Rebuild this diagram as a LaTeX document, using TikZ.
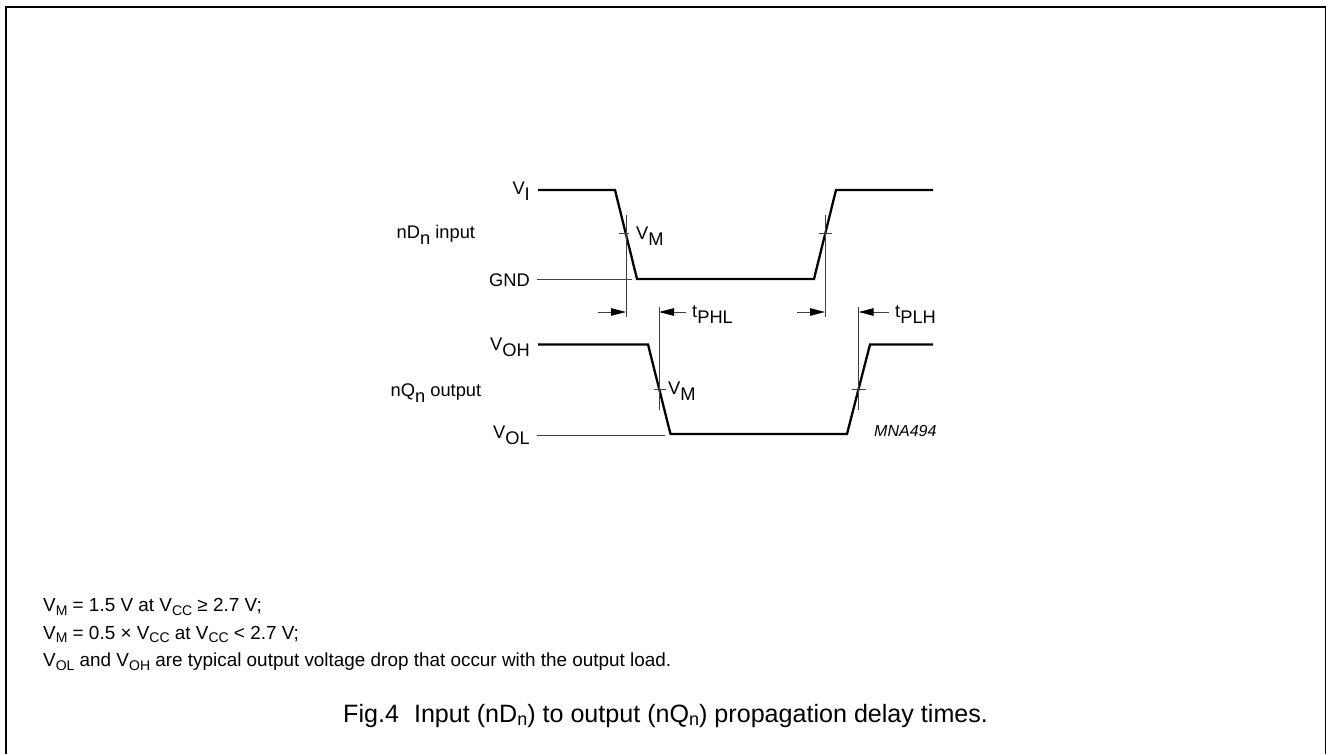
\documentclass[tikz,border=0pt]{standalone}
\usepackage{fontspec}
\setmainfont{Liberation Sans}
\usetikzlibrary{arrows.meta}
\tikzset{
  x=1pt,y=-1pt,
  wave/.style={line width=2.3pt,line join=miter},
  thin line/.style={line width=1pt,black!75},
  meas/.style={thin line,-{Triangle[length=15pt,width=7.5pt,black]}},
  lab/.style={inner sep=0pt,font=\fontsize{18.3}{20}\selectfont},
  sig/.style={inner sep=0pt,font=\fontsize{18.3}{20}\selectfont},
  note/.style={inner sep=0pt,anchor=base west,font=\fontsize{18.9}{22}\selectfont},
  figcap/.style={inner sep=0pt,anchor=base west,font=\fontsize{25.1}{28}\selectfont}
}
\newcommand{\lsub}[2]{#1\raisebox{-0.33em}{#2}}
\newcommand{\nsub}[2]{#1\raisebox{-0.2em}{\fontsize{14}{15}\selectfont #2}}
\newcommand{\csub}[2]{#1\raisebox{-0.15em}{\fontsize{18}{19}\selectfont #2}}
\begin{document}
\begin{tikzpicture}
\useasboundingbox (0,0) rectangle (1327,754);
\draw[line width=1.5pt] (6,800) -- (6,7) -- (1325.5,7) -- (1325.5,800);
% named points
\coordinate (a0) at (538,190); \coordinate (a1) at (615,190); \coordinate (a2) at (637,279);
\coordinate (a3) at (814,279); \coordinate (a4) at (836,190); \coordinate (a5) at (933,190);
\coordinate (b0) at (538,344.5); \coordinate (b1) at (648,344.5); \coordinate (b2) at (670.5,434);
\coordinate (b3) at (847,434); \coordinate (b4) at (870,344.5); \coordinate (b5) at (933,344.5);
\draw[wave] (a0) -- (a1) -- (a2) -- (a3) -- (a4) -- (a5);
\draw[wave] (b0) -- (b1) -- (b2) -- (b3) -- (b4) -- (b5);
% vertical measure lines
\coordinate (m1t) at (626,215); \coordinate (m1b) at (626,317);
\coordinate (m2t) at (825,215); \coordinate (m2b) at (825,317);
\coordinate (m3t) at (659,307); \coordinate (m3b) at (659,410);
\coordinate (m4t) at (858.7,307); \coordinate (m4b) at (858.7,410);
\draw[thin line] (m1t) -- (m1b);
\draw[thin line] (m2t) -- (m2b);
\draw[thin line] (m3t) -- (m3b);
\draw[thin line] (m4t) -- (m4b);
% ticks
\draw[thin line] (619,233) -- (629,233);
\draw[thin line] (819,233) -- (832,233);
\draw[thin line] (654,389) -- (666,389);
\draw[thin line] (852,389) -- (866,389);
% level lines
\coordinate (g0) at (537,279.5); \coordinate (g1) at (632,279.5);
\coordinate (o0) at (537,435); \coordinate (o1) at (665,435);
\draw[thin line] (g0) -- (g1);
\draw[thin line] (o0) -- (o1);
% arrows
\coordinate (r1) at (598,312); \coordinate (r1e) at (626,312);
\coordinate (r2) at (686,312); \coordinate (r2e) at (659,312);
\coordinate (r3) at (797,312); \coordinate (r3e) at (825,312);
\coordinate (r4) at (889,312); \coordinate (r4e) at (858.7,312);
\draw[meas] (r1) -- (r1e);
\draw[meas] (r2) -- (r2e);
\draw[meas] (r3) -- (r3e);
\draw[meas] (r4) -- (r4e);
% labels
\node[lab,anchor=base east] (vi) at (530,194) {\lsub{V}{I}};
\node[lab,anchor=base east] (gnd) at (530,286) {GND};
\node[lab,anchor=base east] (voh) at (530,350) {\lsub{V}{OH}};
\node[lab,anchor=base east] (vol) at (530,438) {\lsub{V}{OL}};
\node[lab,anchor=base west] (vm1) at (636,239) {\lsub{V}{M}};
\node[lab,anchor=base west] (vm2) at (668,394) {\lsub{V}{M}};
\node[lab,anchor=base west] (tphl) at (692,317) {\lsub{t}{PHL}};
\node[lab,anchor=base west] (tplh) at (895,317) {\lsub{t}{PLH}};
\node[sig,anchor=base west] (nd) at (396.5,238.5) {\lsub{nD}{n} input};
\node[sig,anchor=base west] (nq) at (390.5,396) {\lsub{nQ}{n} output};
\node[inner sep=0pt,anchor=base west,font=\fontsize{16}{18}\selectfont\itshape] (mna) at (874,436.5) {MNA494};
% notes
\node[note] (n1) at (43,611.5) {\nsub{V}{M} = 1.5 V at \nsub{V}{CC} ≥ 2.7 V;};
\node[note] (n2) at (43,639) {\nsub{V}{M} = 0.5 × \nsub{V}{CC} at \nsub{V}{CC} < 2.7 V;};
\node[note] (n3) at (43,666.5) {\nsub{V}{OL} and \nsub{V}{OH} are typical output voltage drop that occur with the output load.};
\node[figcap] (c) at (343,722) {Fig.4\hspace{0.6em}Input (\csub{nD}{n}) to output (\csub{nQ}{n}) propagation delay times.};
\end{tikzpicture}
\end{document}
